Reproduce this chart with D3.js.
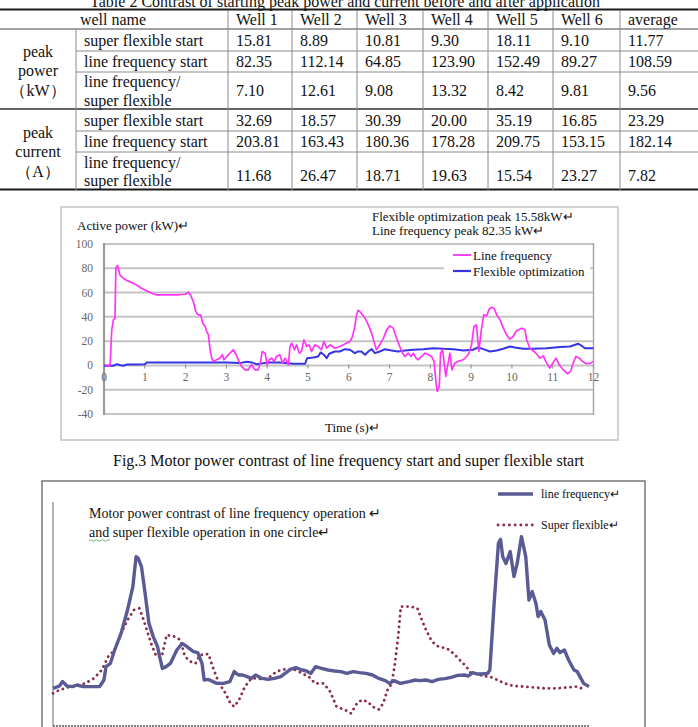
<!DOCTYPE html>
<html><head><meta charset="utf-8">
<script src="https://cdn.jsdelivr.net/npm/d3@7/dist/d3.min.js"></script>
<style>body{margin:0;background:#fff}svg{display:block}text{font-family:"Liberation Serif","Times New Roman",serif}</style>
</head><body>
<svg id="c" width="698" height="727"></svg>
<script>
// ---------- Table data ----------
const tableTitle = "Table 2 Contrast of starting peak power and current before and after application";
const wells = ["Well 1","Well 2","Well 3","Well 4","Well 5","Well 6","average"];
const powerSuperFlexible = [15.81, 8.89, 10.81, 9.30, 18.11, 9.10, 11.77];
const powerLineFreq = [82.35, 112.14, 64.85, 123.90, 152.49, 89.27, 108.59];
const powerRatio = [7.10, 12.61, 9.08, 13.32, 8.42, 9.81, 9.56];
const currentSuperFlexible = [32.69, 18.57, 30.39, 20.00, 35.19, 16.85, 23.29];
const currentLineFreq = [203.81, 163.43, 180.36, 178.28, 209.75, 153.15, 182.14];
const currentRatio = [11.68, 26.47, 18.71, 19.63, 15.54, 23.27, 7.82];

// ---------- Fig.3 data (time s, active power kW) ----------
const fig3XTicks = [0,1,2,3,4,5,6,7,8,9,10,11,12];
const fig3YTicks = [100,80,60,40,20,0,-20,-40];
const lineFreqStart = [[0.02,0],[0.15,0],[0.19,29],[0.23,37.5],[0.27,39],[0.29,80],[0.33,82.35],[0.35,80],[0.39,74.5],[0.47,71.8],[0.56,69.9],[0.68,68.2],[0.80,66.3],[0.92,63.6],[1.05,61.4],[1.17,59.5],[1.29,58.1],[1.54,58.1],[1.78,58.1],[1.99,58.6],[2.07,60.3],[2.12,58.1],[2.19,52.6],[2.25,44.4],[2.31,41.6],[2.37,41.6],[2.42,34.8],[2.48,32.1],[2.52,27.9],[2.56,25.2],[2.60,12.9],[2.64,6],[2.68,3.3],[2.76,4.7],[2.84,6],[2.90,8.8],[2.94,4.7],[3.01,7.4],[3.09,10.1],[3.17,12.9],[3.24,8.8],[3.29,4.7],[3.37,-0.8],[3.46,-3.6],[3.54,-3.6],[3.58,-0.8],[3.62,0.5],[3.70,-3.6],[3.78,-3.6],[3.84,3.3],[3.88,11.5],[3.95,10.1],[4.00,0.5],[4.05,4.7],[4.11,6],[4.17,3.3],[4.23,7.4],[4.31,8.8],[4.38,1.9],[4.44,6],[4.52,0.5],[4.56,15.6],[4.60,18.4],[4.67,12.9],[4.72,17],[4.79,10.1],[4.84,11.5],[4.90,21],[4.97,15.6],[5.03,17],[5.09,11.5],[5.17,17],[5.25,15.6],[5.33,12.9],[5.39,19.7],[5.46,14.2],[5.54,17],[5.66,14.2],[5.78,15.6],[5.87,17],[5.95,18.4],[6.03,19.7],[6.09,23.8],[6.15,32.1],[6.19,41.6],[6.23,45.5],[6.31,43],[6.40,38.9],[6.48,33.4],[6.56,26.6],[6.64,17],[6.68,12.9],[6.76,17],[6.85,22.5],[6.93,29.3],[7.01,32.6],[7.09,30.7],[7.17,22.5],[7.25,15.6],[7.32,10.1],[7.38,7.4],[7.46,10.1],[7.53,7.4],[7.58,10.1],[7.65,6],[7.70,4.7],[7.79,7.4],[7.87,10.1],[7.95,8.8],[8.03,7.4],[8.09,3.3],[8.14,-14.5],[8.17,-21.4],[8.22,-17.3],[8.25,10.1],[8.30,12.9],[8.34,1.9],[8.38,-9],[8.42,-0.8],[8.48,10.1],[8.53,-3.6],[8.60,1.9],[8.68,3.3],[8.81,4.7],[8.93,8.8],[9.01,17],[9.07,32.1],[9.13,33.4],[9.19,11.5],[9.25,29.3],[9.31,41.6],[9.38,40.8],[9.44,46.3],[9.50,47.9],[9.56,47.1],[9.63,41.6],[9.71,37.5],[9.79,30.7],[9.87,25.2],[9.95,21.6],[10.03,23.8],[10.11,28.5],[10.24,30.7],[10.32,29.3],[10.36,21.1],[10.44,14.2],[10.54,11.5],[10.62,8.8],[10.69,6],[10.77,7.9],[10.83,3.3],[10.93,-2.2],[11.00,1.9],[11.08,6],[11.16,0.5],[11.26,-3.6],[11.36,-6.8],[11.44,-4.9],[11.50,1.9],[11.57,7.4],[11.65,6],[11.73,3.3],[11.83,1.4],[11.93,1.9],[11.99,3.3]];
const flexibleStart = [[0,-0.3],[0.23,-0.3],[0.31,1],[0.39,0.3],[0.47,-0.3],[0.56,0.8],[0.80,0.8],[1.0,1],[1.05,2.5],[1.37,2.5],[2.19,2.5],[3.01,2.5],[3.33,1.9],[3.50,3],[3.62,2.5],[3.74,1],[3.91,1.9],[4.07,2.5],[4.31,2.5],[4.64,1.4],[4.93,1.4],[4.98,6],[5.13,6.6],[5.25,7.4],[5.31,10.7],[5.39,8.8],[5.46,6],[5.52,9.6],[5.66,11.5],[5.78,11.5],[5.91,13.4],[6.03,12.9],[6.15,10.1],[6.23,11.5],[6.31,11.5],[6.40,8.8],[6.48,11.5],[6.56,13.4],[6.64,10.1],[6.76,11.5],[6.89,13.4],[7.05,12.3],[7.21,11.5],[7.38,12.3],[7.58,12.9],[7.83,13.4],[8.07,14.2],[8.32,13.7],[8.57,13.4],[8.81,12.3],[9.05,12.9],[9.17,14.8],[9.30,13.4],[9.46,11.5],[9.63,12.3],[9.79,13.7],[9.95,15.6],[10.07,14.8],[10.28,13.7],[10.52,13.7],[10.85,14.2],[11.18,15.1],[11.42,15.6],[11.63,17.8],[11.71,16.2],[11.79,14.2],[12.0,14.2]];

// ---------- One-circle data (relative position %, relative power) ----------
const circleLineFreq = [[0,18.8],[1.2,20.0],[1.8,22.2],[2.6,20.0],[3.6,19.7],[4.5,20.5],[5.6,19.7],[6.8,19.7],[8.7,19.7],[9.5,23.0],[9.9,29.7],[10.7,31.3],[11.5,38.0],[12.7,46.3],[13.9,58.0],[14.9,69.7],[15.5,84.7],[15.9,83.8],[16.5,79.7],[17.1,68.0],[17.9,51.3],[18.7,44.7],[19.5,39.7],[19.9,34.7],[20.4,28.8],[21.1,29.7],[21.9,31.3],[23.1,38.0],[24.1,41.3],[25.0,39.7],[26.2,37.2],[27.0,36.7],[27.8,31.3],[28.2,23.0],[29.0,23.3],[29.8,22.2],[30.6,21.3],[31.8,21.3],[33.0,22.2],[33.8,27.2],[34.6,25.5],[35.4,25.5],[36.2,24.7],[37.0,23.8],[37.8,25.5],[39.0,23.8],[40.1,23.3],[41.3,23.8],[42.5,24.7],[43.3,26.3],[44.3,28.3],[45.3,29.2],[46.5,28.0],[47.3,27.5],[48.1,26.3],[49.0,29.7],[50.1,28.8],[51.3,28.0],[52.5,27.5],[53.7,27.2],[54.8,26.3],[56.0,27.2],[57.2,26.7],[58.4,26.3],[59.6,25.5],[60.8,23.8],[62.0,22.7],[62.8,21.3],[63.6,22.7],[64.8,21.3],[66.4,22.2],[67.6,23.0],[68.4,22.7],[69.6,23.0],[70.7,22.2],[71.9,23.3],[73.1,23.7],[74.3,24.3],[75.5,25.3],[76.7,25.5],[77.5,25.0],[78.3,26.7],[79.1,26.0],[79.9,26.0],[81.1,26.3],[81.5,28.0],[82.3,61.3],[83.1,91.3],[83.5,93.3],[83.9,84.7],[84.5,81.3],[85.3,87.2],[86.0,74.7],[86.6,81.3],[87.4,94.7],[88.2,84.7],[88.8,63.0],[89.4,67.2],[90.1,61.3],[90.5,54.7],[91.0,57.2],[91.8,53.0],[92.6,40.5],[93.4,36.3],[94.0,38.8],[94.6,36.7],[95.4,38.0],[96.2,33.0],[97.2,28.0],[97.8,27.2],[99.0,21.3],[100,19.7]];
const circleSuperFlexible = [[0,16.3],[1.2,18.0],[2.8,19.3],[4.4,20.0],[6.0,21.3],[7.6,23.8],[9.1,28.0],[10.3,34.7],[11.5,38.0],[12.7,46.3],[13.9,53.0],[15.1,58.0],[16.1,58.8],[16.7,54.7],[17.5,48.0],[18.3,41.3],[19.3,34.7],[20.3,34.7],[21.2,45.5],[22.7,44.7],[23.8,43.0],[24.6,34.7],[25.7,32.2],[26.6,31.3],[27.4,35.5],[29.0,36.0],[30.0,28.0],[31.0,21.3],[32.2,16.3],[33.1,11.3],[33.8,9.7],[34.7,13.0],[35.8,19.7],[37.0,23.8],[38.2,23.8],[39.3,23.3],[40.5,24.7],[41.7,27.2],[42.9,28.3],[44.1,28.3],[45.3,28.0],[46.5,26.3],[47.7,24.7],[48.9,21.3],[50.5,21.3],[51.7,17.2],[52.9,9.7],[54.5,8.0],[55.6,6.3],[56.7,11.3],[57.6,13.0],[58.7,12.2],[59.6,9.7],[60.8,8.3],[61.6,11.3],[62.4,18.0],[63.2,21.3],[63.8,31.3],[64.4,44.7],[64.9,59.7],[65.6,59.7],[66.8,59.7],[68.0,58.8],[68.8,53.0],[69.6,48.0],[70.7,42.2],[71.9,39.7],[73.5,38.8],[74.7,36.3],[75.9,33.0],[77.1,29.7],[77.9,26.7],[79.1,26.0],[80.3,25.0],[81.5,24.7],[82.7,23.3],[84.3,21.3],[85.9,20.0],[87.8,19.7],[89.8,19.3],[91.8,18.8],[93.8,18.8],[95.8,19.3],[97.8,19.7],[99.4,18.0]];

const svg = d3.select("#c");
svg.append("rect").attr("width",698).attr("height",727).attr("fill","#fff");

// ================= TABLE =================
const colX = [0, 76, 228, 292, 357, 423, 488, 553, 620, 698];
const T = svg.append("g");
T.append("text").attr("x",345).attr("y",7).attr("text-anchor","middle").attr("font-size",16).attr("fill","#111").text(tableTitle);

const rowsPower = [
  {label:["super flexible start"], vals:powerSuperFlexible, y0:29, y1:51},
  {label:["line frequency start"], vals:powerLineFreq, y0:51, y1:72},
  {label:["line frequency/","super flexible"], vals:powerRatio, y0:72, y1:109}
];
const rowsCurrent = [
  {label:["super flexible start"], vals:currentSuperFlexible, y0:109, y1:131},
  {label:["line frequency start"], vals:currentLineFreq, y0:131, y1:152},
  {label:["line frequency/","super flexible"], vals:currentRatio, y0:152, y1:190, numC:175, labC:[162.5,180.5]}
];
T.append("text").attr("x",113).attr("y",25).attr("text-anchor","middle").attr("font-size",16).attr("fill","#111").text("well name");
wells.forEach((w,i)=>T.append("text").attr("x",colX[i+2]+8).attr("y",25).attr("font-size",16).attr("fill","#111").text(w));
function drawRows(rows){
  rows.forEach(r=>{
    const c = r.numC || (r.y0+r.y1)/2;
    if(r.label.length===1){
      T.append("text").attr("x",colX[1]+8).attr("y",c+5.5).attr("font-size",16).attr("fill","#111").text(r.label[0]);
    } else {
      const lc = r.labC || [c-9.5, c+9.5];
      r.label.forEach((l,k)=>T.append("text").attr("x",colX[1]+8).attr("y",lc[k]+5.5).attr("font-size",16).attr("fill","#111").text(l));
    }
    r.vals.forEach((v,i)=>T.append("text").attr("x",colX[i+2]+8).attr("y",c+5.5).attr("font-size",16).attr("fill","#111").text(v.toFixed(2)));
  });
}
drawRows(rowsPower); drawRows(rowsCurrent);
[["peak",51],["power",70.5],["（kW）",90]].forEach(([t,y])=>T.append("text").attr("x",38).attr("y",y+5.5).attr("text-anchor","middle").attr("font-size",16).attr("fill","#111").text(t));
[["peak",132.5],["current",151.5],["（A）",171]].forEach(([t,y])=>T.append("text").attr("x",38).attr("y",y+5.5).attr("text-anchor","middle").attr("font-size",16).attr("fill","#111").text(t));
const hl=(x1,x2,y,c,w)=>T.append("line").attr("x1",x1).attr("x2",x2).attr("y1",y).attr("y2",y).attr("stroke",c).attr("stroke-width",w);
const vl=(x,y1,y2,c,w)=>T.append("line").attr("x1",x).attr("x2",x).attr("y1",y1).attr("y2",y2).attr("stroke",c).attr("stroke-width",w);
hl(0,698,9.5,"#1a1a1a",2);
hl(0,698,29,"#444",1);
hl(76,698,51,"#8a8a8a",1); hl(76,698,72,"#8a8a8a",1);
hl(0,698,109,"#333",1.5);
hl(76,698,131,"#8a8a8a",1); hl(76,698,152,"#8a8a8a",1);
hl(0,698,189.5,"#1a1a1a",2);
vl(76,29,190,"#8a8a8a",1);
colX.slice(2,9).forEach(x=>vl(x,10,190,"#8a8a8a",1));

// ================= FIG 3 =================
const F = svg.append("g");
F.append("rect").attr("x",61).attr("y",207).attr("width",557).attr("height",233).attr("fill","none").attr("stroke","#d2d2d2").attr("stroke-width",2);
const x1 = d3.scaleLinear().domain([0,12]).range([104,593.5]);
const y1 = d3.scaleLinear().domain([-40,100]).range([414,244]);
fig3YTicks.forEach(v=>{
  F.append("line").attr("x1",104).attr("x2",593.5).attr("y1",y1(v)).attr("y2",y1(v)).attr("stroke","#c4c4c4").attr("stroke-width",2);
  F.append("text").attr("x",93).attr("y",y1(v)+4).attr("text-anchor","end").attr("font-size",11.5).attr("fill","#666").text(v);
});
F.append("line").attr("x1",104).attr("x2",104).attr("y1",243).attr("y2",415).attr("stroke","#9a9a9a").attr("stroke-width",2.2);
F.append("line").attr("x1",593.5).attr("x2",593.5).attr("y1",243).attr("y2",415).attr("stroke","#a8a8a8").attr("stroke-width",1.5);
fig3XTicks.forEach(t=>{
  F.append("line").attr("x1",x1(t)).attr("x2",x1(t)).attr("y1",y1(0)-1).attr("y2",y1(0)+3).attr("stroke","#999").attr("stroke-width",1.2);
  F.append("text").attr("x",x1(t)).attr("y",y1(0)+16).attr("text-anchor","middle").attr("font-size",11.5).attr("fill","#666").text(t);
});
const line1 = d3.line().x(d=>x1(d[0])).y(d=>y1(d[1]));
F.append("path").datum(flexibleStart).attr("d",line1).attr("fill","none").attr("stroke","#3535e6").attr("stroke-width",2).attr("stroke-linejoin","round");
F.append("path").datum(lineFreqStart).attr("d",line1).attr("fill","none").attr("stroke","#ff35f5").attr("stroke-width",1.7).attr("stroke-linejoin","round");
F.append("rect").attr("x",444).attr("y",245).attr("width",146).attr("height",34).attr("fill","#fff");
F.append("line").attr("x1",453).attr("x2",471).attr("y1",255).attr("y2",255).attr("stroke","#ff35f5").attr("stroke-width",1.8);
F.append("line").attr("x1",453).attr("x2",471).attr("y1",271).attr("y2",271).attr("stroke","#3535e6").attr("stroke-width",2.2);
F.append("text").attr("x",473).attr("y",259.5).attr("font-size",13).attr("fill","#111").text("Line frequency");
F.append("text").attr("x",473).attr("y",275.5).attr("font-size",13).attr("fill","#111").text("Flexible optimization");
F.append("text").attr("x",77).attr("y",230).attr("font-size",13).attr("fill","#111").text("Active power (kW)↵");
F.append("text").attr("x",372).attr("y",221).attr("font-size",13).attr("fill","#111").text("Flexible optimization  peak 15.58kW↵");
F.append("text").attr("x",372).attr("y",235).attr("font-size",13).attr("fill","#111").text("Line frequency peak 82.35 kW↵");
F.append("text").attr("x",325).attr("y",432).attr("font-size",13).attr("fill","#111").text("Time (s)↵");
svg.append("text").attr("x",348.5).attr("y",466).attr("text-anchor","middle").attr("font-size",16).attr("fill","#111").text("Fig.3 Motor power contrast of line frequency start and super flexible start");

// ================= ONE CIRCLE =================
const G = svg.append("g");
G.append("rect").attr("x",42).attr("y",481).attr("width",603).attr("height",270).attr("fill","none").attr("stroke","#555").attr("stroke-width",1.2);
const x2 = d3.scaleLinear().domain([0,100]).range([53,589]);
const y2 = d3.scaleLinear().domain([0,100]).range([726,526]);
G.append("line").attr("x1",53).attr("x2",53).attr("y1",502).attr("y2",726).attr("stroke","#999").attr("stroke-width",1.5);
G.append("line").attr("x1",53).attr("x2",590).attr("y1",726).attr("y2",726).attr("stroke","#555").attr("stroke-width",1.5).attr("stroke-dasharray","2 1");
const line2 = d3.line().x(d=>x2(d[0])).y(d=>y2(d[1]));
G.append("path").datum(circleSuperFlexible).attr("d",line2).attr("fill","none").attr("stroke","#8c2c4c").attr("stroke-width",2.8).attr("stroke-linecap","round").attr("stroke-dasharray","0.1 5.3");
G.append("path").datum(circleLineFreq).attr("d",line2).attr("fill","none").attr("stroke","#5a5a95").attr("stroke-width",3.4).attr("stroke-linejoin","round");
G.append("text").attr("x",89).attr("y",518).attr("font-size",14).attr("fill","#111").text("Motor power contrast of line frequency operation ↵");
G.append("text").attr("x",89).attr("y",537).attr("font-size",14).attr("fill","#111").text("and super flexible operation in one circle↵");
G.append("path").attr("d","M89,540.5 q1.5,-1.5 3,0 t3,0 t3,0 t3,0 t3,0 t3,0 t3,0").attr("fill","none").attr("stroke","#3a9a3a").attr("stroke-width",0.7);
G.append("line").attr("x1",498).attr("x2",533).attr("y1",494).attr("y2",494).attr("stroke","#5a5a95").attr("stroke-width",3.4);
G.append("line").attr("x1",498).attr("x2",533).attr("y1",525).attr("y2",525).attr("stroke","#8c2c4c").attr("stroke-width",2.8).attr("stroke-linecap","round").attr("stroke-dasharray","0.1 5.6");
G.append("text").attr("x",541).attr("y",498).attr("font-size",12).attr("fill","#111").text("line frequency↵");
G.append("text").attr("x",541).attr("y",529).attr("font-size",12).attr("fill","#111").text("Super flexible↵");
</script>
</body></html>
